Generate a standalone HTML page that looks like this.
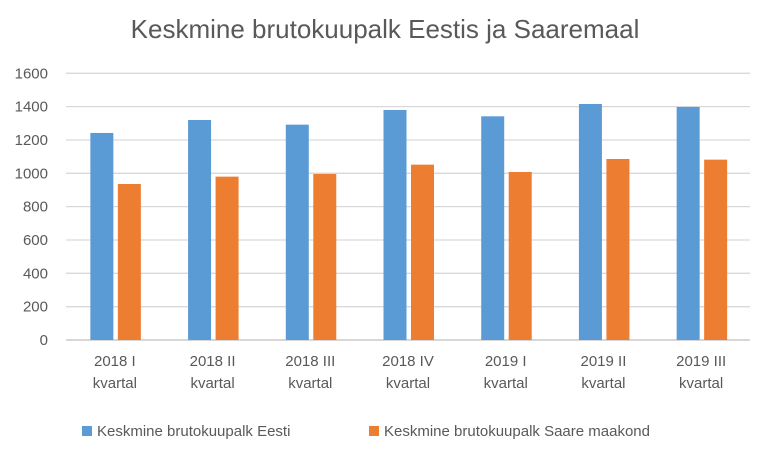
<!DOCTYPE html>
<html><head><meta charset="utf-8"><style>
body{margin:0;background:#fff;font-family:"Liberation Sans",sans-serif;}
svg text{font-family:"Liberation Sans",sans-serif;}
</style></head><body>
<svg width="768" height="456" viewBox="0 0 768 456">
<text x="385" y="38" text-anchor="middle" font-size="26" fill="#595959">Keskmine brutokuupalk Eestis ja Saaremaal</text>
<g id="grid"></g><g id="bars"></g><g id="labels"></g>
<g>
<rect x="82" y="426" width="10" height="10" fill="#5b9bd5"/>
<text x="97" y="436" font-size="15" fill="#595959">Keskmine brutokuupalk Eesti</text>
<rect x="369" y="426" width="10" height="10" fill="#ed7d31"/>
<text x="384" y="436" font-size="15" fill="#595959">Keskmine brutokuupalk Saare maakond</text>
</g>
</svg>
<script>
const categories=["2018 I","2018 II","2018 III","2018 IV","2019 I","2019 II","2019 III"];
const eesti=[1242,1320,1292,1380,1342,1416,1398];
const saare=[936,980,996,1052,1008,1086,1082];
const ticks=[0,200,400,600,800,1000,1200,1400,1600];
const NS="http://www.w3.org/2000/svg";
const x0=66,x1=750,y0=340,yTop=73.3,max=1600;
const y=v=>y0-(v/max)*(y0-yTop);
const bw=(x1-x0)/categories.length;
const grid=document.getElementById('grid'),bars=document.getElementById('bars'),labels=document.getElementById('labels');
function mk(tag,attrs,parent){const e=document.createElementNS(NS,tag);for(const k in attrs)e.setAttribute(k,attrs[k]);parent.appendChild(e);return e;}
ticks.forEach(t=>{
 const l=mk('line',{x1:x0,x2:x1,y1:y(t),y2:y(t),stroke:t===0?'#bfbfbf':'#d9d9d9','stroke-width':1.3},grid);
 
 
 const tx=mk('text',{x:48,y:y(t)+5,'text-anchor':'end','font-size':15,fill:'#595959'},labels);
 tx.textContent=t;
 
 
});
categories.forEach((c,i)=>{
 const cx=x0+bw*(i+0.5);
 const b=mk('rect',{x:cx-24.5,y:y(eesti[i]),width:23,height:y0-y(eesti[i]),fill:'#5b9bd5'},bars);
 
 
 const o=mk('rect',{x:cx+3,y:y(saare[i]),width:23,height:y0-y(saare[i]),fill:'#ed7d31'},bars);
 
 
 const t1=mk('text',{x:cx,y:366,'text-anchor':'middle','font-size':15,fill:'#595959'},labels);
 t1.textContent=c;
 
 
 const t2=mk('text',{x:cx,y:388,'text-anchor':'middle','font-size':15,fill:'#595959'},labels);
 t2.textContent='kvartal';
 
 
});
</script>
</body></html>
